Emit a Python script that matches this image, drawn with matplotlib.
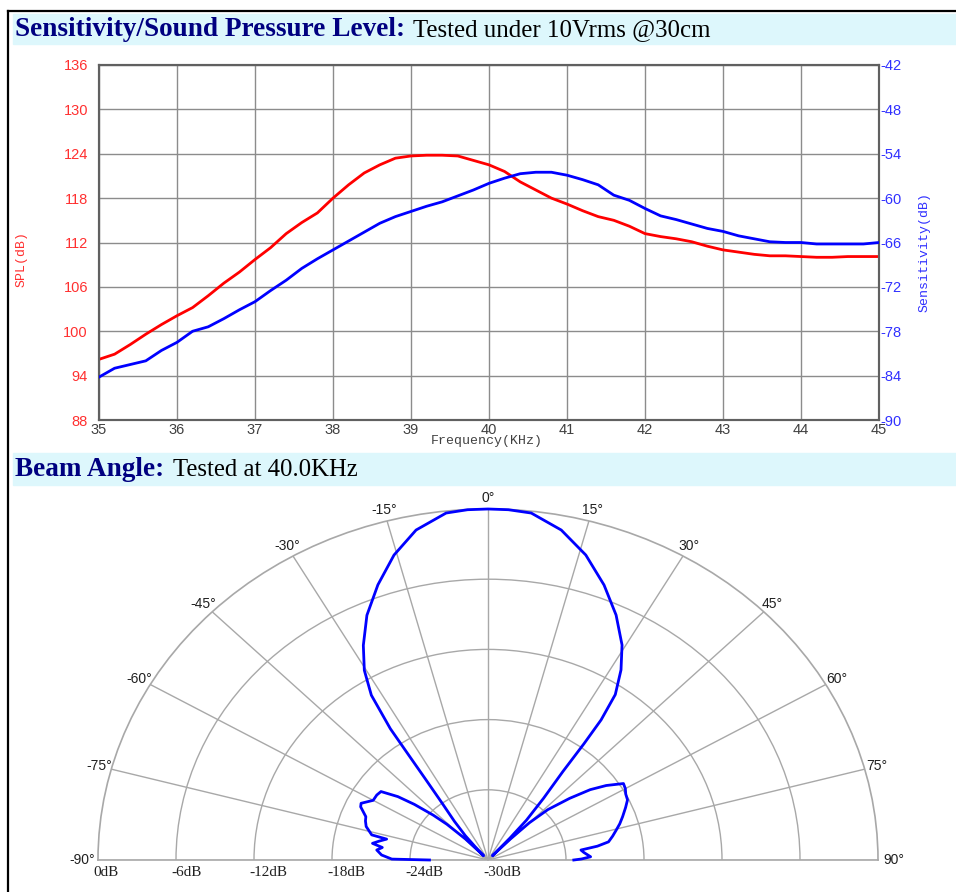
import numpy as np
import matplotlib
matplotlib.use("Agg")
import matplotlib.pyplot as plt
from matplotlib.lines import Line2D
from matplotlib.patches import Rectangle

# ---------------- data ----------------
freq_khz = [35.0, 35.2, 35.4, 35.6, 35.8, 36.0, 36.2, 36.4, 36.6, 36.8,
            37.0, 37.2, 37.4, 37.6, 37.8, 38.0, 38.2, 38.4, 38.6, 38.8,
            39.0, 39.2, 39.4, 39.6, 39.8, 40.0, 40.2, 40.4, 40.6, 40.8,
            41.0, 41.2, 41.4, 41.6, 41.8, 42.0, 42.2, 42.4, 42.6, 42.8,
            43.0, 43.2, 43.4, 43.6, 43.8, 44.0, 44.2, 44.4, 44.6, 44.8, 45.0]
spl_db = [96.2, 96.9, 98.2, 99.6, 100.9, 102.1, 103.2, 104.8, 106.5, 108.0,
          109.7, 111.3, 113.2, 114.7, 116.0, 118.0, 119.8, 121.4, 122.5, 123.4,
          123.7, 123.8, 123.8, 123.7, 123.1, 122.5, 121.6, 120.2, 119.1, 118.0,
          117.2, 116.3, 115.5, 115.0, 114.2, 113.2, 112.8, 112.5, 112.1, 111.5,
          111.0, 110.7, 110.4, 110.2, 110.2, 110.1, 110.0, 110.0, 110.1, 110.1, 110.1]
sens_db = [-84.2, -83.0, -82.5, -82.0, -80.6, -79.5, -78.0, -77.4, -76.3, -75.1,
           -74.0, -72.5, -71.1, -69.5, -68.2, -67.0, -65.8, -64.6, -63.4, -62.5,
           -61.8, -61.1, -60.5, -59.7, -58.9, -58.0, -57.3, -56.7, -56.5, -56.5,
           -56.9, -57.5, -58.2, -59.6, -60.3, -61.4, -62.4, -62.9, -63.5, -64.1,
           -64.5, -65.1, -65.5, -65.9, -66.0, -66.0, -66.2, -66.2, -66.2, -66.2, -66.0]
freq_ticks = list(range(35, 46))
spl_ticks = list(range(88, 137, 6))
sens_ticks = list(range(-90, -41, 6))

beam_angle = [-90, -89.4, -87, -84.3, -82.5, -80.9, -79, -77.1, -76.5, -73,
              -70.5, -68.5, -65.1, -63.6, -60, -57, -54.6, -52, -50, -47.7,
              -46, -44, -42.5, -41, -40, -38, -36, -34.8, -34.2, -33.8,
              -32.5, -30.4, -27.6, -24, -19.8, -15.5, -11.1, -6.2, -3, 0,
              3, 6.4, 11.3, 16.1, 20.8, 25.2, 29.3, 32.2, 34.7, 36.0,
              36.6, 37.3, 39.0, 41.0, 42.0, 42.8, 43.8, 45, 46.9, 50,
              52.6, 55, 57.9, 60, 62, 64.4, 67, 70.3, 73, 75.4,
              78, 80.5, 82, 83.2, 85, 88, 89.3, 90]
beam_db = [-25.5, -22.6, -21.8, -21.4, -21.8, -21.0, -21.5, -22.0, -20.8, -20.2,
           -20.0, -19.9, -19.2, -19.1, -19.8, -19.8, -19.9, -21.2, -22.6, -24.3,
           -25.6, -27.5, -29.5, -28.5, -27.3, -25.8, -24.0, -21.5, -19.0, -16.5,
           -13.3, -11.2, -9.3, -7.1, -5.0, -2.95, -1.26, -0.17, -0.02, 0.0,
           -0.02, -0.16, -1.24, -2.87, -4.86, -6.86, -8.93, -10.8, -12.8, -15.2,
           -17.6, -20.5, -23.2, -25.5, -27.5, -29.5, -27.5, -25.5, -23.7, -21.8,
           -20.1, -18.9, -17.7, -17.8, -18.0, -18.1, -18.5, -19.0, -19.4, -19.8,
           -20.2, -20.6, -21.5, -22.8, -22.6, -22.1, -22.8, -23.4]
angle_ticks = list(range(-90, 91, 15))
ring_ticks = [0, -6, -12, -18, -24, -30]

# ---------------- figure ----------------
W, H = 956, 892
fig = plt.figure(figsize=(W / 100, H / 100), dpi=100)
fx = lambda p: p / W
fy = lambda p: 1 - p / H

# frame lines of the page
fig.add_artist(Line2D([fx(8), fx(8)], [fy(11), fy(892)], color='black', lw=1.6))
fig.add_artist(Line2D([fx(8), 1], [fy(11), fy(11)], color='black', lw=1.6))

band = '#DDF7FC'
fig.add_artist(Rectangle((fx(13), fy(44)), 1 - fx(13), 30 / H, color=band,
                         transform=fig.transFigure, zorder=0))
fig.add_artist(Rectangle((fx(13), fy(485)), 1 - fx(13), 32 / H, color=band,
                         transform=fig.transFigure, zorder=0))

serif = 'Liberation Serif'
fig.text(fx(15), fy(36), 'Sensitivity/Sound Pressure Level:', family=serif,
         weight='bold', size=19.6, color='#000080', va='baseline', ha='left')
fig.text(fx(413), fy(36), 'Tested under 10Vrms @30cm', family=serif,
         size=17.9, color='black', va='baseline', ha='left')
fig.text(fx(15), fy(476), 'Beam Angle:', family=serif,
         weight='bold', size=19.6, color='#000080', va='baseline', ha='left')
fig.text(fx(173), fy(476), 'Tested at 40.0KHz', family=serif,
         size=17.8, color='black', va='baseline', ha='left')

# ---------------- SPL / sensitivity chart ----------------
ax1 = fig.add_axes([fx(99), fy(420), (879 - 99) / W, (420 - 65) / H])
ax1.plot(freq_khz, spl_db, color='#FF0000', lw=2, zorder=3)
ax1.set_xlim(35, 45)
ax1.set_ylim(88, 136)
ax1.set_xticks(freq_ticks)
ax1.set_yticks(spl_ticks)
ax1.set_xticklabels([str(t) for t in freq_ticks])
ax1.set_yticklabels([str(t) for t in spl_ticks])
ax1.grid(True, color='#8c8c8c', lw=1)
ax1.set_axisbelow(True)
ax1.tick_params(axis='x', length=0, pad=2, labelsize=10.5, labelcolor='#404040')
ax1.tick_params(axis='y', length=0, pad=8, labelsize=10.5, labelcolor='#FF3030')
for lab in ax1.get_xticklabels() + ax1.get_yticklabels():
    lab.set_family('Liberation Sans')
for s in ax1.spines.values():
    s.set_color('#606060')
    s.set_linewidth(1.5)

ax2 = ax1.twinx()
ax2.plot(freq_khz, sens_db, color='#0000FF', lw=2, zorder=3)
ax2.set_ylim(-90, -42)
ax2.set_yticks(sens_ticks)
ax2.set_yticklabels(['%d' % t for t in sens_ticks])
ax2.tick_params(axis='y', length=0, pad=1, labelsize=10.5, labelcolor='#3030FF')
for lab in ax2.get_yticklabels():
    lab.set_family('Liberation Sans')
for s in ax2.spines.values():
    s.set_color('#606060')
    s.set_linewidth(1.5)

mono = 'Liberation Mono'
fig.text(fx(487), fy(441), 'Frequency(KHz)', family=mono, size=9.5,
         color='#404040', ha='center', va='center')
fig.text(fx(22), fy(259), 'SPL(dB)', family=mono, size=9.5, color='#FF3030',
         rotation=90, ha='center', va='center')
fig.text(fx(925), fy(252), 'Sensitivity(dB)', family=mono, size=9.5,
         color='#3030FF', rotation=90, ha='center', va='center')

# ---------------- beam angle (polar) ----------------
ry = 351
ax3 = fig.add_axes([fx(98), fy(860 + ry / 2), 780 / W, 2 * ry / H],
                   projection='polar')
ax3.set_theta_zero_location('N')
ax3.set_theta_direction(-1)
ax3.set_thetamin(-90)
ax3.set_thetamax(90)
ax3.set_rlim(-30, 0)
ax3.set_aspect('auto')
ax3.set_xticks(np.deg2rad(angle_ticks))
ax3.set_xticklabels([])
ax3.set_yticks([-24, -18, -12, -6])
ax3.set_yticklabels([])
ax3.grid(True, color='#a8a8a8', lw=1, ls='-')
ax3.tick_params(length=0)
for name in ('polar', 'start', 'end'):
    ax3.spines[name].set_color('#a8a8a8')
    ax3.spines[name].set_linewidth(1.2)
ax3.spines['inner'].set_visible(False)
ax3.plot(np.deg2rad(beam_angle), beam_db, color='#0000FF', lw=2, clip_on=False,
         zorder=4)

for a in angle_ticks:
    rr = 1.25 if abs(a) == 90 else 0.95
    ax3.text(np.deg2rad(a), rr, '%d°' % a, family='Liberation Sans', size=10,
             color='#202020', ha='center', va='center', clip_on=False)
for r in ring_ticks:
    ax3.annotate('%ddB' % r, xy=(np.deg2rad(-90), r), xytext=(-5, -12),
                 textcoords='offset pixels', family=serif, size=11,
                 color='#202020', ha='left', va='center', annotation_clip=False)

fig.savefig('out.png', dpi=100)
